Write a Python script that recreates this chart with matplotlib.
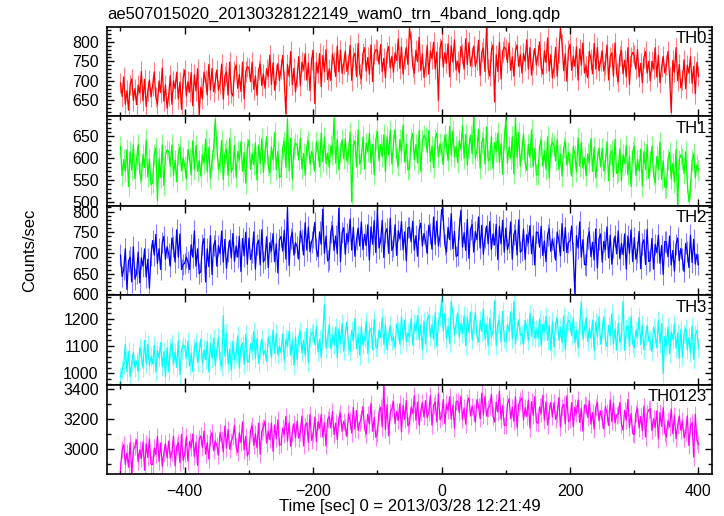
import numpy as np
import matplotlib.pyplot as plt
from matplotlib.ticker import MultipleLocator

plt.rcParams['font.family'] = ['Liberation Sans', 'DejaVu Sans']

title = 'ae507015020_20130328122149_wam0_trn_4band_long.qdp'
xlabel = 'Time [sec] 0 = 2013/03/28 12:21:49'

# time bins (sec), 2.5 s steps from -500 to 400
t = np.arange(-500, 400.1, 2.5)

# count rates (local peaks / troughs)
th0 = [695, 660, 710, 640, 675, 625, 690, 705, 650, 680,
       639, 689, 669, 724, 649, 704, 634, 674, 702, 659,
       688, 723, 658, 640, 700, 670, 733, 648, 690, 630,
       662, 714, 640, 700, 680, 722, 654, 697, 627, 707,
       728, 661, 698, 671, 721, 636, 716, 674, 731, 612,
       684, 654, 722, 702, 664, 742, 676, 732, 672, 696,
       728, 676, 693, 743, 653, 713, 723, 663, 748, 670,
       661, 726, 741, 681, 716, 673, 748, 654, 724, 736,
       733, 698, 748, 678, 713, 663, 728, 743, 688, 718,
       681, 731, 711, 766, 691, 746, 676, 716, 744, 701,
       730, 765, 700, 615, 742, 712, 775, 690, 732, 672,
       710, 762, 688, 748, 728, 770, 702, 745, 675, 755,
       777, 642, 747, 720, 770, 685, 765, 723, 780, 703,
       731, 701, 769, 749, 711, 789, 723, 779, 719, 743,
       776, 724, 741, 791, 701, 761, 771, 711, 796, 718,
       705, 770, 785, 725, 760, 717, 792, 698, 768, 780,
       778, 743, 793, 723, 758, 708, 773, 788, 733, 763,
       722, 772, 752, 807, 732, 787, 717, 757, 785, 742,
       835, 802, 737, 719, 779, 749, 812, 727, 769, 709,
       739, 791, 717, 777, 757, 799, 731, 774, 650, 784,
       802, 735, 772, 745, 795, 710, 790, 748, 805, 728,
       750, 720, 788, 768, 730, 808, 742, 798, 738, 762,
       789, 737, 754, 804, 714, 774, 784, 724, 840, 731,
       712, 777, 792, 646, 767, 724, 799, 705, 775, 787,
       782, 747, 797, 727, 762, 712, 777, 792, 737, 767,
       720, 770, 750, 805, 730, 785, 715, 755, 783, 740,
       765, 800, 735, 717, 777, 747, 810, 725, 767, 707,
       734, 786, 712, 772, 835, 794, 726, 769, 699, 779,
       794, 727, 764, 737, 787, 702, 782, 740, 797, 720,
       738, 708, 776, 756, 718, 796, 730, 786, 726, 750,
       777, 725, 742, 792, 702, 762, 772, 712, 797, 719,
       698, 763, 778, 718, 753, 710, 785, 691, 761, 773,
       765, 730, 780, 710, 745, 695, 760, 775, 720, 750,
       700, 750, 730, 785, 710, 765, 695, 735, 763, 720,
       740, 775, 710, 619, 752, 722, 785, 700, 742, 682,
       702, 754, 680, 740, 720, 762, 694, 737, 667, 747,
       712]

th1 = [627, 560, 597, 570, 620, 535, 615, 573, 630, 553,
       597, 632, 567, 549, 609, 579, 642, 557, 599, 539,
       544, 609, 624, 503, 599, 556, 631, 537, 607, 619,
       616, 581, 631, 561, 596, 546, 611, 626, 571, 601,
       582, 552, 620, 600, 562, 640, 574, 630, 570, 594,
       559, 609, 589, 644, 569, 624, 554, 594, 622, 690,
       626, 574, 591, 641, 551, 611, 621, 561, 646, 568,
       578, 630, 556, 616, 596, 638, 570, 613, 543, 623,
       642, 575, 612, 585, 635, 550, 630, 588, 645, 568,
       614, 649, 584, 566, 626, 596, 659, 574, 616, 556,
       559, 624, 639, 579, 690, 571, 646, 552, 622, 634,
       631, 596, 646, 576, 611, 561, 626, 641, 586, 616,
       600, 570, 638, 618, 580, 658, 592, 648, 588, 612,
       579, 629, 609, 692, 589, 644, 574, 614, 642, 599,
       645, 593, 610, 660, 500, 630, 640, 580, 665, 587,
       597, 649, 575, 635, 615, 657, 589, 632, 562, 642,
       661, 594, 631, 604, 654, 569, 649, 607, 664, 587,
       631, 666, 601, 583, 643, 613, 676, 591, 633, 573,
       577, 642, 657, 597, 632, 589, 664, 570, 640, 652,
       648, 613, 663, 593, 628, 578, 643, 658, 603, 633,
       615, 585, 653, 633, 595, 673, 607, 663, 603, 627,
       590, 640, 620, 675, 600, 655, 585, 625, 653, 610,
       695, 600, 617, 667, 577, 637, 647, 587, 672, 594,
       598, 650, 576, 636, 616, 658, 590, 633, 563, 643,
       690, 589, 626, 599, 649, 564, 693, 602, 659, 582,
       620, 655, 590, 572, 632, 602, 665, 580, 622, 562,
       562, 627, 642, 582, 617, 574, 649, 555, 625, 637,
       629, 594, 644, 574, 609, 559, 624, 639, 584, 614,
       589, 559, 627, 607, 569, 647, 581, 637, 577, 601,
       560, 610, 590, 645, 570, 625, 555, 595, 623, 580,
       623, 571, 588, 638, 548, 608, 618, 558, 643, 565,
       570, 622, 548, 608, 588, 630, 562, 605, 535, 615,
       628, 561, 598, 571, 621, 536, 616, 574, 631, 554,
       592, 627, 562, 544, 604, 574, 637, 552, 594, 534,
       533, 598, 613, 553, 588, 545, 620, 493, 596, 608,
       600, 565, 615, 545, 500, 530, 595, 610, 555, 585,
       572]

th2 = [695, 643, 660, 710, 612, 680, 690, 630, 715, 637,
       650, 702, 628, 688, 668, 710, 642, 685, 615, 695,
       730, 695, 745, 675, 710, 660, 725, 740, 685, 715,
       698, 668, 736, 716, 678, 756, 690, 746, 660, 672,
       675, 690, 678, 660, 720, 690, 753, 668, 710, 650,
       655, 720, 735, 630, 710, 667, 742, 648, 718, 730,
       668, 718, 698, 753, 678, 733, 663, 703, 731, 688,
       747, 680, 717, 690, 740, 655, 735, 693, 750, 673,
       736, 684, 701, 751, 661, 721, 731, 671, 756, 678,
       687, 739, 665, 725, 705, 747, 679, 722, 652, 732,
       740, 705, 755, 685, 810, 670, 735, 750, 695, 725,
       715, 685, 753, 733, 695, 773, 707, 763, 703, 727,
       739, 774, 709, 691, 751, 721, 806, 699, 741, 681,
       686, 751, 766, 706, 741, 698, 808, 679, 749, 761,
       697, 747, 727, 782, 707, 762, 692, 732, 760, 717,
       775, 708, 745, 718, 768, 683, 763, 721, 778, 701,
       805, 712, 729, 779, 689, 749, 759, 699, 784, 706,
       716, 768, 694, 754, 734, 776, 708, 751, 681, 761,
       762, 727, 777, 707, 742, 692, 757, 772, 717, 747,
       729, 699, 767, 747, 709, 787, 721, 777, 717, 741,
       805, 785, 720, 702, 762, 732, 795, 710, 752, 692,
       694, 759, 803, 714, 749, 706, 781, 687, 757, 769,
       702, 752, 732, 787, 712, 767, 697, 737, 765, 722,
       776, 709, 746, 719, 769, 684, 764, 722, 779, 702,
       760, 708, 725, 775, 685, 745, 755, 695, 780, 702,
       706, 758, 684, 744, 724, 766, 698, 741, 671, 751,
       749, 714, 764, 694, 729, 679, 744, 759, 704, 734,
       713, 683, 751, 731, 693, 771, 705, 761, 701, 725,
       730, 765, 700, 600, 742, 712, 775, 690, 732, 672,
       671, 736, 751, 691, 726, 683, 758, 664, 734, 746,
       678, 728, 708, 763, 688, 743, 673, 713, 741, 698,
       753, 686, 723, 696, 746, 661, 741, 699, 756, 679,
       737, 685, 702, 752, 662, 722, 732, 672, 757, 679,
       683, 735, 661, 721, 701, 743, 675, 718, 648, 728,
       726, 691, 741, 671, 706, 656, 721, 736, 681, 711,
       685, 655, 723, 703, 665, 743, 677, 733, 673, 697,
       672]

th3 = [985, 1012, 1033, 1105, 1007, 1079, 988, 1040, 1076, 1020,
       1045, 1006, 1094, 1068, 1019, 1120, 1035, 1107, 1029, 1061,
       1034, 1102, 1005, 1083, 1057, 1112, 1024, 1080, 988, 1093,
       1005, 1090, 1110, 1031, 1077, 1021, 1119, 996, 1087, 1103,
       1099, 1053, 1118, 1027, 1073, 1007, 1092, 1112, 1040, 1079,
       1125, 1037, 1086, 1050, 1116, 1005, 1109, 1054, 1129, 1028,
       1086, 1132, 1047, 1024, 1210, 1063, 1145, 1034, 1089, 1011,
       1117, 1049, 1071, 1137, 1019, 1098, 1111, 1032, 1143, 1042,
       1042, 1108, 1081, 1153, 1055, 1127, 1036, 1088, 1124, 1068,
       1083, 1044, 1132, 1106, 1057, 1158, 1073, 1145, 1067, 1099,
       1076, 1144, 1047, 1125, 1099, 1154, 1066, 1122, 1030, 1135,
       1049, 1134, 1154, 1075, 1121, 1065, 1163, 1040, 1131, 1147,
       1150, 1104, 1169, 1078, 1124, 1058, 1143, 1250, 1091, 1130,
       1178, 1090, 1139, 1103, 1169, 1058, 1162, 1107, 1182, 1081,
       1141, 1187, 1102, 1079, 1157, 1118, 1200, 1089, 1144, 1066,
       1171, 1103, 1125, 1191, 1073, 1152, 1165, 1086, 1197, 1096,
       1092, 1158, 1131, 1203, 1105, 1177, 1086, 1138, 1174, 1118,
       1132, 1093, 1181, 1155, 1106, 1207, 1122, 1194, 1116, 1148,
       1132, 1200, 1103, 1181, 1155, 1210, 1122, 1178, 1086, 1191,
       1107, 1192, 1212, 1133, 1179, 1123, 1221, 1098, 1189, 1205,
       1268, 1153, 1218, 1127, 1173, 1107, 1262, 1212, 1140, 1179,
       1220, 1132, 1181, 1145, 1211, 1100, 1204, 1149, 1224, 1123,
       1176, 1222, 1137, 1114, 1192, 1153, 1235, 1124, 1179, 1101,
       1200, 1132, 1154, 1265, 1102, 1181, 1194, 1115, 1226, 1125,
       1113, 1179, 1152, 1224, 1126, 1262, 1107, 1159, 1195, 1139,
       1144, 1105, 1193, 1167, 1118, 1219, 1134, 1206, 1128, 1160,
       1130, 1198, 1101, 1179, 1153, 1208, 1120, 1176, 1084, 1189,
       1095, 1180, 1200, 1121, 1167, 1111, 1209, 1086, 1177, 1193,
       1184, 1138, 1203, 1112, 1158, 1092, 1177, 1260, 1125, 1164,
       1203, 1115, 1164, 1128, 1194, 1083, 1187, 1132, 1207, 1106,
       1159, 1205, 1120, 1097, 1175, 1136, 1218, 1107, 1162, 1084,
       1182, 1114, 1136, 1262, 1084, 1163, 1176, 1097, 1208, 1107,
       1092, 1158, 1131, 1203, 1105, 1177, 1086, 1138, 1174, 1118,
       1119, 1080, 1168, 1142, 1093, 1194, 1109, 1181, 1000, 1135,
       1101, 1169, 1072, 1150, 1124, 1179, 1091, 1147, 1055, 1160,
       1059, 1144, 1164, 1085, 1131, 1075, 1173, 1050, 1141, 1157,
       1090]

th0123 = [2860, 2994, 3027, 2895, 2972, 2877, 3042, 2836, 2990, 3016,
          3060, 2913, 2994, 2935, 3045, 2858, 3034, 2942, 3067, 2898,
          2895, 3005, 2961, 3082, 2917, 3038, 2884, 2972, 3034, 2939,
          3051, 2937, 2974, 3084, 2886, 3018, 3040, 2908, 3095, 2923,
          2966, 3080, 2918, 3050, 3006, 3098, 2948, 3043, 2889, 3065,
          3085, 3008, 3118, 2964, 3041, 2931, 3074, 3107, 2986, 3052,
          3023, 2957, 3107, 3063, 2979, 3151, 3005, 3129, 2997, 3049,
          3080, 3157, 3014, 2974, 3106, 3040, 3179, 2992, 3084, 2952,
          2979, 3122, 3155, 3023, 3100, 3005, 3170, 2964, 3118, 3144,
          3185, 3038, 3119, 3060, 3170, 2983, 3159, 3067, 3192, 3023,
          3028, 3138, 3094, 3215, 3050, 3171, 3017, 3105, 3167, 3072,
          3184, 3070, 3107, 3217, 3019, 3151, 3173, 3041, 3228, 3056,
          3096, 3210, 3048, 3180, 3136, 3228, 3078, 3173, 3019, 3195,
          3215, 3138, 3248, 3094, 3171, 3061, 3204, 3237, 3116, 3182,
          3148, 3082, 3232, 3188, 3104, 3276, 3130, 3254, 3122, 3174,
          3204, 3281, 3138, 3098, 3230, 3164, 3303, 3116, 3208, 3076,
          3101, 3244, 3277, 3145, 3420, 3127, 3292, 3086, 3240, 3266,
          3314, 3167, 3248, 3189, 3299, 3112, 3288, 3196, 3321, 3152,
          3168, 3278, 3234, 3355, 3190, 3311, 3157, 3245, 3307, 3212,
          3321, 3207, 3244, 3354, 3156, 3288, 3310, 3178, 3365, 3193,
          3214, 3328, 3166, 3298, 3254, 3346, 3196, 3291, 3137, 3313,
          3317, 3240, 3350, 3196, 3273, 3163, 3306, 3339, 3218, 3284,
          3243, 3177, 3327, 3283, 3199, 3371, 3225, 3349, 3217, 3269,
          3284, 3361, 3218, 3178, 3310, 3244, 3383, 3196, 3288, 3156,
          3156, 3299, 3332, 3200, 3277, 3182, 3347, 3141, 3295, 3321,
          3340, 3193, 3274, 3215, 3325, 3138, 3314, 3222, 3347, 3178,
          3169, 3279, 3235, 3356, 3191, 3312, 3158, 3246, 3308, 3213,
          3308, 3194, 3231, 3341, 3143, 3275, 3297, 3165, 3352, 3180,
          3193, 3307, 3145, 3277, 3233, 3325, 3175, 3270, 3116, 3292,
          3285, 3208, 3318, 3164, 3241, 3131, 3274, 3307, 3186, 3252,
          3198, 3132, 3282, 3238, 3154, 3326, 3180, 3304, 3172, 3224,
          3230, 3307, 3164, 3124, 3256, 3190, 3329, 3142, 3234, 3102,
          3093, 3236, 3269, 3137, 3214, 3119, 3284, 3078, 3232, 3258,
          3267, 3120, 3201, 3142, 3252, 3065, 3241, 3149, 3274, 3105,
          3078, 3188, 3144, 3265, 3100, 3221, 3067, 3155, 3217, 3122,
          3186, 3072, 3109, 3219, 3021, 3153, 3175, 2945, 3230, 3058,
          3030]

names = ['TH0', 'TH1', 'TH2', 'TH3', 'TH0123']
series = [th0, th1, th2, th3, th0123]
errs = [26, 24, 26, 34, 57]
colors = ['#ff0000', '#00ff00', '#0000ff', '#00ffff', '#ff00ff']
ylims = [(609, 838), (491, 696), (598, 814), (959, 1285), (2832, 3427)]
ymajor = [50, 50, 50, 100, 200]
yminor = [10, 10, 10, 20, 100]

fig = plt.figure(figsize=(7.24, 5.16), dpi=100)
left, width = 0.1478, 0.8356
bottom, top = 0.0814, 0.9477
h = (top - bottom) / 5

for i in range(5):
    ax = fig.add_axes([left, top - (i + 1) * h, width, h])
    y = np.array(series[i])
    ax.vlines(t, y - errs[i], y + errs[i], color=colors[i], alpha=0.5, lw=0.8)
    ax.plot(t, y, color=colors[i], lw=0.9)
    ax.set_xlim(-521, 421)
    ax.set_ylim(*ylims[i])
    ax.xaxis.set_major_locator(MultipleLocator(200))
    ax.xaxis.set_minor_locator(MultipleLocator(100))
    ax.yaxis.set_major_locator(MultipleLocator(ymajor[i]))
    ax.yaxis.set_minor_locator(MultipleLocator(yminor[i]))
    ax.tick_params(which='both', direction='in', top=True, right=True,
                   labelsize=11.5, width=1)
    ax.tick_params(which='major', length=5)
    ax.tick_params(which='minor', length=3)
    ax.tick_params(axis='y', pad=6)
    ax.tick_params(axis='x', pad=7)
    for s in ax.spines.values():
        s.set_linewidth(1.2)
    ax.text(0.992, 0.95, names[i], transform=ax.transAxes, ha='right',
            va='top', fontsize=12)
    if i < 4:
        ax.tick_params(labelbottom=False)
    else:
        ax.set_xlabel(xlabel, fontsize=12, labelpad=0)
    if i == 0:
        ax.set_title(title, loc='left', fontsize=12, pad=6)

fig.text(0.041, 0.5155, 'Counts/sec', rotation=90, ha='center',
         va='center', fontsize=12)

plt.savefig('out.png')
